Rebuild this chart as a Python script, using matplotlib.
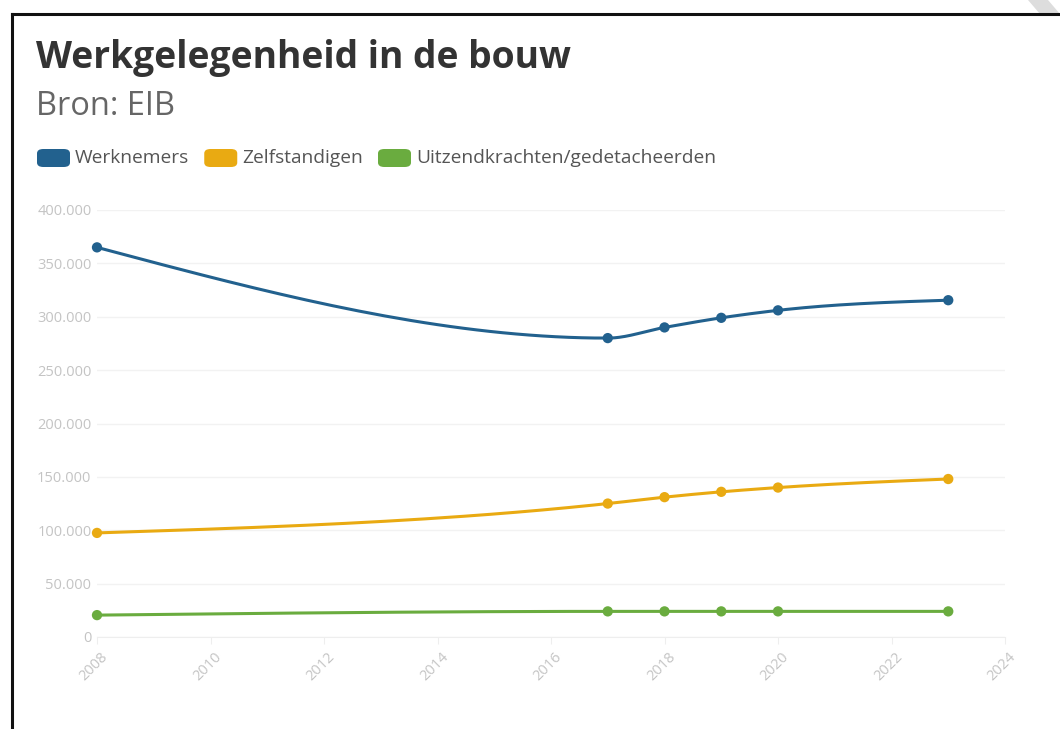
import matplotlib
matplotlib.use("Agg")
import matplotlib.pyplot as plt
import matplotlib.transforms as mtransforms
import numpy as np
from matplotlib.patches import FancyBboxPatch, Polygon
from matplotlib.lines import Line2D

# data
years = [2008, 2017, 2018, 2019, 2020, 2023]
werknemers = [365000, 280000, 290000, 299000, 306000, 315500]
zelfstandigen = [97500, 125000, 131000, 136000, 140000, 148000]
uitzendkrachten = [20500, 24000, 24000, 24000, 24000, 24000]

series_names = ["Werknemers", "Zelfstandigen", "Uitzendkrachten/gedetacheerden"]
series_colors = ["#22618e", "#e9aa12", "#6aac3f"]

y_ticks = [0, 50000, 100000, 150000, 200000, 250000, 300000, 350000, 400000]
x_ticks = list(range(2008, 2025, 2))

FONT = "Open Sans"
W, H = 1060, 729


def monotone_curve(x, y, n=40):
    # monotone cubic (like d3 curveMonotoneX) for drawing a smooth line through points
    x = np.asarray(x, float)
    y = np.asarray(y, float)
    h = np.diff(x)
    s = np.diff(y) / h
    m = np.zeros(len(x))
    for i in range(1, len(x) - 1):
        if s[i - 1] * s[i] <= 0:
            m[i] = 0.0
        else:
            p = (s[i - 1] * h[i] + s[i] * h[i - 1]) / (h[i - 1] + h[i])
            m[i] = np.sign(s[i - 1]) * min(abs(s[i - 1]), abs(s[i]), 0.5 * abs(p)) * 2
    m[0] = (3 * s[0] - m[1]) / 2 if len(x) > 2 else s[0]
    m[-1] = (3 * s[-1] - m[-2]) / 2 if len(x) > 2 else s[-1]
    xs, ys = [], []
    for i in range(len(x) - 1):
        t = np.linspace(0, 1, n)
        h00 = 2 * t**3 - 3 * t**2 + 1
        h10 = t**3 - 2 * t**2 + t
        h01 = -2 * t**3 + 3 * t**2
        h11 = t**3 - t**2
        xs.append(x[i] + t * h[i])
        ys.append(h00 * y[i] + h10 * h[i] * m[i] + h01 * y[i + 1] + h11 * h[i] * m[i + 1])
    return np.concatenate(xs), np.concatenate(ys)


fig = plt.figure(figsize=(W / 100, H / 100), dpi=100)
fig.patch.set_facecolor("white")

# frame of the screenshot
fig.add_artist(Polygon([[1028 / W, 1], [1048 / W, 1], [1060 / W, 1 - 14 / H], [1040 / W, 1 - 14 / H]],
                       closed=True, transform=fig.transFigure, facecolor="#dddddd", edgecolor="none"))
fig.add_artist(Line2D([12 / W, 1], [1 - 14 / H, 1 - 14 / H], color="#111111", lw=2.2))
fig.add_artist(Line2D([12 / W, 12 / W], [0, 1 - 14 / H], color="#111111", lw=2.2))

fig.text(36 / W, 1 - 68 / H, "Werkgelegenheid in de bouw", fontsize=26.8, fontweight="bold",
         color="#333333", family=FONT, va="baseline", ha="left")
fig.text(36 / W, 1 - 115 / H, "Bron: EIB", fontsize=23.5, color="#666666",
         family=FONT, va="baseline", ha="left")

ax = fig.add_axes([97 / W, 1 - 637 / H, (1005 - 97) / W, (637 - 210) / H])
ax.set_xlim(2008, 2024)
ax.set_ylim(0, 400000)

all_series = [werknemers, zelfstandigen, uitzendkrachten]
for vals, col in zip(all_series, series_colors):
    cx, cy = monotone_curve(years, vals)
    ax.plot(cx, cy, color=col, lw=2.2, solid_capstyle="round", zorder=3, clip_on=False)
    ax.scatter(years, vals, s=55, color=col, zorder=4, clip_on=False, edgecolors="none")

ax.tick_params(axis="y", length=0, pad=4)
ax.tick_params(axis="x", length=5, color="#eeeeee", pad=4)
ax.set_yticks(y_ticks)
ax.set_yticklabels([f"{v:,}".replace(",", ".") for v in y_ticks], fontsize=10.5,
                   color="#c4c4c4", family=FONT)
ax.set_xticks(x_ticks)
ax.set_xticklabels([str(v) for v in x_ticks], fontsize=10.5, color="#c4c4c4",
                   family=FONT, rotation=45, ha="right", va="top")
shift = mtransforms.ScaledTranslation(14 / 100, 0, fig.dpi_scale_trans)
for lab in ax.xaxis.get_majorticklabels():
    lab.set_transform(lab.get_transform() + shift)
for sp in ["top", "right", "left"]:
    ax.spines[sp].set_visible(False)
ax.spines["bottom"].set_color("#eeeeee")
ax.grid(axis="y", color="#f2f2f2", lw=1.0)
ax.set_axisbelow(True)

# legend: rounded colour swatches followed by labels
renderer = fig.canvas.get_renderer()
x_px = 37
for name, col in zip(series_names, series_colors):
    box = FancyBboxPatch((x_px / W, 1 - 167 / H), 33 / W, 18 / H,
                         boxstyle="round,pad=0,rounding_size=0.006",
                         transform=fig.transFigure, facecolor=col, edgecolor="none")
    fig.add_artist(box)
    t = fig.text((x_px + 38) / W, 1 - 158 / H, name, fontsize=13.8, color="#555555",
                 family=FONT, va="center", ha="left")
    bb = t.get_window_extent(renderer)
    x_px = bb.x1 + 15

fig.savefig("out.png", dpi=100, facecolor="white")
